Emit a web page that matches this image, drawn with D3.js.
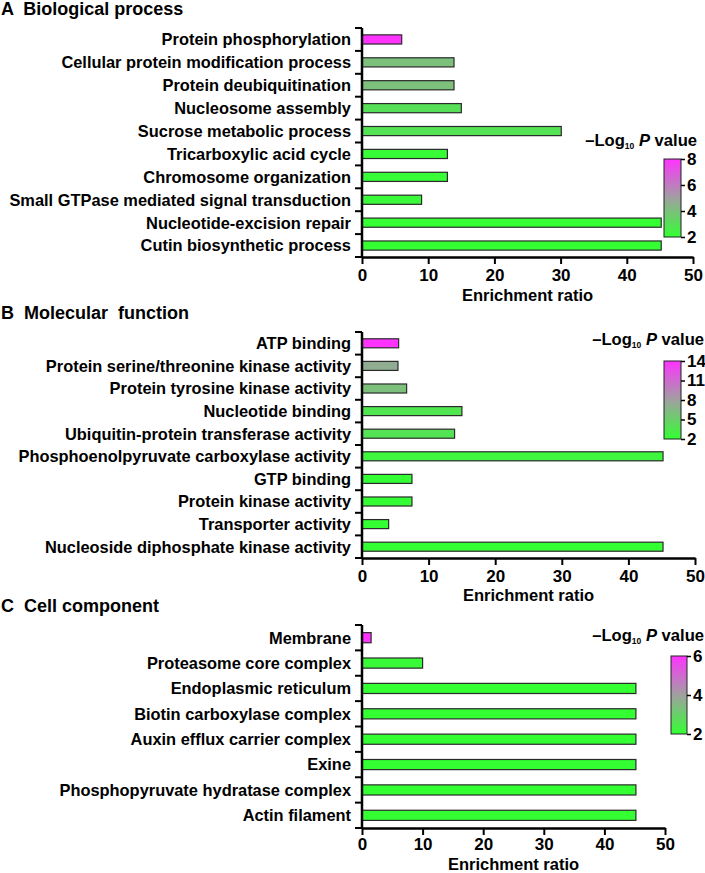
<!DOCTYPE html>
<html>
<head>
<meta charset="utf-8">
<script src="https://cdn.jsdelivr.net/npm/d3@7"></script>
<style>
  body { margin: 0; background: #fff; }
  svg { font-family: "Liberation Sans", Arial, sans-serif; font-weight: bold; }
</style>
</head>
<body>
<div id="chart"></div>
<script>
const width = 705;
const height = 873;

const xTicks = [0, 10, 20, 30, 40, 50];

const bpTerms = [
  "Protein phosphorylation",
  "Cellular protein modification process",
  "Protein deubiquitination",
  "Nucleosome assembly",
  "Sucrose metabolic process",
  "Tricarboxylic acid cycle",
  "Chromosome organization",
  "Small GTPase mediated signal transduction",
  "Nucleotide-excision repair",
  "Cutin biosynthetic process"
];
const bpRatio = [6, 13.9, 13.9, 15, 30.1, 12.9, 12.9, 9, 45.2, 45.2];
const bpLogP = [8, 4.0, 4.0, 3.0, 2.9, 2.1, 2.1, 2.2, 2.0, 2.0];
const bpLegendTicks = [2, 4, 6, 8];

const mfTerms = [
  "ATP binding",
  "Protein serine/threonine kinase activity",
  "Protein tyrosine kinase activity",
  "Nucleotide binding",
  "Ubiquitin-protein transferase activity",
  "Phosphoenolpyruvate carboxylase activity",
  "GTP binding",
  "Protein kinase activity",
  "Transporter activity",
  "Nucleoside diphosphate kinase activity"
];
const mfRatio = [5.5, 5.4, 6.7, 15, 13.9, 45.2, 7.5, 7.5, 4, 45.2];
const mfLogP = [14, 7.2, 6.0, 3.6, 3.8, 2.6, 2.1, 2.1, 2.0, 2.0];
const mfLegendTicks = [2, 5, 8, 11, 14];

const ccTerms = [
  "Membrane",
  "Proteasome core complex",
  "Endoplasmic reticulum",
  "Biotin carboxylase complex",
  "Auxin efflux carrier complex",
  "Exine",
  "Phosphopyruvate hydratase complex",
  "Actin filament"
];
const ccRatio = [1.5, 10, 45.2, 45.2, 45.2, 45.2, 45.2, 45.2];
const ccLogP = [6, 2.1, 2.0, 2.0, 2.0, 2.0, 2.0, 2.0];
const ccLegendTicks = [2, 4, 6];

const lowColor = "#33ff33";
const midColor = "#a0a0a0";
const highColor = "#ff33ff";
const fontFamily = "'Liberation Sans', Arial, sans-serif";

const svg = d3.select("#chart")
  .append("svg")
  .attr("width", width)
  .attr("height", height);

const defs = svg.append("defs");

function drawPanel(p, idx) {
  const g = svg.append("g");
  const lo = d3.min(p.legendTicks), hi = d3.max(p.legendTicks);
  const color = d3.scaleLinear()
    .domain([lo, (lo + hi) / 2, hi])
    .range([lowColor, midColor, highColor]);

  // panel title
  g.append("text")
    .attr("x", 1)
    .attr("y", p.titleY)
    .attr("font-size", 18)
    .attr("xml:space", "preserve")
    .text(p.title);

  const x = d3.scaleLinear().domain([0, 50]).range(p.xRange);
  const y = d3.scaleBand().domain(p.terms).range(p.yRange).paddingInner(0.6).paddingOuter(0.3);

  // bars
  g.selectAll(".bar")
    .data(p.terms)
    .enter()
    .append("rect")
    .attr("x", x(0))
    .attr("y", d => y(d))
    .attr("width", (d, i) => x(p.ratio[i]) - x(0))
    .attr("height", y.bandwidth())
    .attr("fill", (d, i) => color(p.logP[i]))
    .attr("stroke", "#2a2a2a")
    .attr("stroke-width", 1.2);

  // y axis: ticks on band edges
  const step = (p.yRange[1] - p.yRange[0]) / p.terms.length;
  const edges = d3.range(p.terms.length + 1).map(i => p.yRange[0] + i * step);
  g.append("line")
    .attr("x1", x(0)).attr("x2", x(0))
    .attr("y1", p.yRange[0]).attr("y2", p.yRange[1])
    .attr("stroke", "#000").attr("stroke-width", 2.5);
  g.selectAll(".ytick")
    .data(edges)
    .enter()
    .append("line")
    .attr("x1", x(0) - 7).attr("x2", x(0))
    .attr("y1", d => d).attr("y2", d => d)
    .attr("stroke", "#000").attr("stroke-width", 2);
  g.selectAll(".ylab")
    .data(p.terms)
    .enter()
    .append("text")
    .attr("x", x(0) - 11)
    .attr("y", (d, i) => p.yRange[0] + (i + 0.5) * step)
    .attr("dy", "0.36em")
    .attr("text-anchor", "end")
    .attr("font-size", 16.4)
    .text(d => d);

  // x axis
  const xAxis = g.append("g")
    .attr("transform", `translate(0,${p.yRange[1]})`)
    .call(d3.axisBottom(x).tickValues(xTicks).tickSize(7).tickPadding(p.tickPad).tickSizeOuter(0));
  xAxis.select(".domain").attr("stroke-width", 2.5);
  xAxis.selectAll(".tick line").attr("stroke-width", 2);
  xAxis.selectAll(".tick text")
    .attr("font-size", 17)
    .attr("font-family", fontFamily)
    .attr("font-weight", "bold")
    .attr("fill", "#000");

  g.append("text")
    .attr("x", (p.xRange[0] + p.xRange[1]) / 2)
    .attr("y", p.yRange[1] + p.xTitleGap)
    .attr("text-anchor", "middle")
    .attr("font-size", 16.5)
    .text("Enrichment ratio");

  // legend title
  const lt = g.append("text")
    .attr("x", p.legendTitleX)
    .attr("y", p.legendTitleY)
    .attr("text-anchor", "end")
    .attr("font-size", 16.6);
  lt.append("tspan").text("\u2013Log");
  lt.append("tspan").attr("font-size", 8.5).attr("dy", 3).text("10");
  lt.append("tspan").attr("dy", -3).attr("font-style", "italic").text(" P");
  lt.append("tspan").text(" value");

  // legend gradient
  const gid = "grad" + idx;
  const grad = defs.append("linearGradient")
    .attr("id", gid)
    .attr("x1", 0).attr("y1", 1).attr("x2", 0).attr("y2", 0);
  [lowColor, midColor, highColor].forEach((c, i) => {
    grad.append("stop").attr("offset", i / 2).attr("stop-color", c);
  });
  const ly = d3.scaleLinear().domain([lo, hi]).range([p.legendBox[3], p.legendBox[2]]);
  g.append("rect")
    .attr("x", p.legendBox[0])
    .attr("y", p.legendBox[2])
    .attr("width", p.legendBox[1] - p.legendBox[0])
    .attr("height", p.legendBox[3] - p.legendBox[2])
    .attr("fill", `url(#${gid})`)
    .attr("stroke", "#222")
    .attr("stroke-width", 1);
  const legAxis = g.append("g")
    .attr("transform", `translate(${p.legendBox[1]},0)`)
    .call(d3.axisRight(ly).tickValues(p.legendTicks).tickFormat(d3.format("d"))
      .tickSize(4).tickPadding(2).tickSizeOuter(0));
  legAxis.select(".domain").remove();
  legAxis.selectAll(".tick line").attr("stroke-width", 1.5);
  legAxis.selectAll(".tick text")
    .attr("font-size", 17)
    .attr("font-family", fontFamily)
    .attr("font-weight", "bold")
    .attr("fill", "#000");
}

const panels = [
  {
    title: "A  Biological process", titleY: 15,
    terms: bpTerms, ratio: bpRatio, logP: bpLogP, legendTicks: bpLegendTicks,
    xRange: [362, 693], yRange: [28, 257], xTitleGap: 44, tickPad: 5,
    legendTitleX: 697, legendTitleY: 146, legendBox: [664, 681, 159, 237]
  },
  {
    title: "B  Molecular  function", titleY: 319,
    terms: mfTerms, ratio: mfRatio, logP: mfLogP, legendTicks: mfLegendTicks,
    xRange: [362, 695], yRange: [332, 558], xTitleGap: 43, tickPad: 5,
    legendTitleX: 704, legendTitleY: 345, legendBox: [664, 681, 361, 439]
  },
  {
    title: "C  Cell component", titleY: 612,
    terms: ccTerms, ratio: ccRatio, logP: ccLogP, legendTicks: ccLegendTicks,
    xRange: [362, 665], yRange: [625, 828], xTitleGap: 41.5, tickPad: 3,
    legendTitleX: 704, legendTitleY: 641, legendBox: [671, 687, 656, 734]
  }
];

panels.forEach(drawPanel);
</script>
</body>
</html>
